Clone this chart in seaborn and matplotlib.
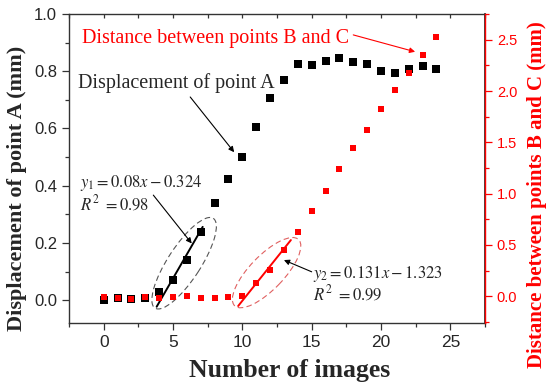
import matplotlib
matplotlib.use("Agg")
import matplotlib.pyplot as plt
import seaborn as sns
import pandas as pd
from matplotlib.patches import Ellipse
from matplotlib.transforms import ScaledTranslation
from matplotlib.ticker import MultipleLocator, FormatStrFormatter

# data
images = list(range(25))
disp_a = [0.002, 0.007, 0.005, 0.009, 0.027, 0.070, 0.140, 0.237, 0.338, 0.422,
          0.500, 0.605, 0.706, 0.769, 0.824, 0.823, 0.837, 0.847, 0.833, 0.826,
          0.800, 0.795, 0.809, 0.818, 0.807]
dist_bc = [-0.010, -0.017, -0.023, -0.010, -0.017, -0.010, 0.003, -0.017, -0.017, -0.010,
           0.003, 0.127, 0.256, 0.451, 0.623, 0.828, 1.026, 1.237, 1.442, 1.620,
           1.827, 2.010, 2.172, 2.350, 2.529]

# fitted segments (end points as drawn)
fit1_x = [3.82, 7.14]
fit1_y = [-0.023, 0.256]
fit2_x = [9.70, 13.50]
fit2_y = [-0.094, 0.548]

RED = "#ff0000"
AXC = "#333333"

sns.set_theme(style="ticks")
plt.rcParams["font.family"] = ["Liberation Sans", "DejaVu Sans"]
plt.rcParams["mathtext.fontset"] = "stix"

fig = plt.figure(figsize=(5.5, 3.85), dpi=100)
ax = fig.add_axes([0.1255, 0.161, 0.7563, 0.8026])
ax2 = ax.twinx()

df = pd.DataFrame({"x": images, "a": disp_a, "bc": dist_bc})
sns.scatterplot(data=df, x="x", y="a", ax=ax, marker="s", s=26, color="black",
                linewidth=0, zorder=3)
sns.lineplot(x=fit1_x, y=fit1_y, ax=ax, color="black", linewidth=1.4, zorder=3)
sns.scatterplot(data=df, x="x", y="bc", ax=ax2, marker="s", s=25, color=RED,
                linewidth=0, zorder=3)
sns.lineplot(x=fit2_x, y=fit2_y, ax=ax2, color=RED, linewidth=1.4, zorder=3)

ax.set_xlim(-2.5, 27.5)
ax.set_ylim(-0.08, 1.0)
ax2.set_ylim(-0.26, 2.75)

ax.xaxis.set_major_locator(MultipleLocator(5))
ax.xaxis.set_minor_locator(MultipleLocator(2.5))
ax.yaxis.set_major_locator(MultipleLocator(0.2))
ax.yaxis.set_minor_locator(MultipleLocator(0.1))
ax2.yaxis.set_major_locator(MultipleLocator(0.5))
ax2.yaxis.set_minor_locator(MultipleLocator(0.25))
ax.yaxis.set_major_formatter(FormatStrFormatter("%.1f"))
ax2.yaxis.set_major_formatter(FormatStrFormatter("%.1f"))

ax.tick_params(axis="x", which="both", direction="out", labelsize=12.5, color=AXC)
ax.tick_params(axis="x", which="major", length=5, width=0.9)
ax.tick_params(axis="x", which="minor", length=3, width=0.9)
ax.tick_params(axis="y", which="both", direction="out", labelsize=12, color=AXC)
ax.tick_params(axis="y", which="major", length=5, width=0.9)
ax.tick_params(axis="y", which="minor", length=3, width=0.9)
ax2.tick_params(axis="y", which="both", direction="out", colors=RED, labelsize=10.5)
ax2.tick_params(axis="y", which="major", length=5, width=0.9)
ax2.tick_params(axis="y", which="minor", length=3, width=0.9)

top = ax.secondary_xaxis("top")
top.xaxis.set_major_locator(MultipleLocator(5))
top.xaxis.set_minor_locator(MultipleLocator(2.5))
top.tick_params(which="both", direction="in", labeltop=False, length=3, width=0.9,
                color=AXC)

for s in ["left", "bottom", "top"]:
    ax.spines[s].set_color(AXC)
    ax.spines[s].set_linewidth(1.0)
top.spines["top"].set_visible(False)
ax2.spines["right"].set_color(RED)
ax2.spines["right"].set_linewidth(1.0)
for s in ["left", "bottom", "top"]:
    ax2.spines[s].set_visible(False)

serif = ["Liberation Serif", "DejaVu Serif"]
ax.set_xlabel("Number of images", family=serif, fontweight="bold", fontsize=18.5)
ax.xaxis.set_label_coords(0.53, -0.118)
ax.set_ylabel("Displacement of point A (mm)", family=serif, fontweight="bold", fontsize=16)
ax.yaxis.set_label_coords(-0.10, 0.437)
ax2.set_ylabel("Distance between points B and C (mm)", family=serif, fontweight="bold",
               fontsize=15, color=RED, rotation=90)
ax2.yaxis.set_label_coords(1.10, 0.414)

# annotations
arrow = dict(arrowstyle="-|>", color="black", lw=0.8, mutation_scale=8,
             shrinkA=0, shrinkB=0)
ax.text(-1.85, 0.741, "Displacement of point A", family=serif, fontsize=14.5,
        va="baseline", ha="left")
ax.annotate("", xy=(9.41, 0.517), xytext=(6.24, 0.710), arrowprops=arrow)
ax.text(-1.59, 0.899, "Distance between points B and C", family=serif, fontsize=14.5,
        va="baseline", ha="left", color=RED)
ax.annotate("", xy=(22.46, 0.868), xytext=(18.0, 0.927),
            arrowprops=dict(arrow, color=RED))
ax.text(-1.71, 0.396, r"$y_1 = 0.08x - 0.324$", fontsize=12, va="baseline", ha="left")
ax.text(-1.71, 0.315, r"$R^2\ = 0.98$", fontsize=12, va="baseline", ha="left")
ax.annotate("", xy=(6.35, 0.198), xytext=(3.58, 0.367), arrowprops=arrow)
ax.text(15.1, 0.077, r"$y_2 = 0.131x - 1.323$", fontsize=12, va="baseline", ha="left")
ax.text(15.1, 0.0, r"$R^2\ = 0.99$", fontsize=12, va="baseline", ha="left")
ax.annotate("", xy=(13.0, 0.14), xytext=(15.0, 0.099), arrowprops=arrow)

# dashed ellipses around the fitted ranges (sizes in inches)
tr1 = fig.dpi_scale_trans + ScaledTranslation(5.80, 0.129, ax.transData)
ax.add_patch(Ellipse((0, 0), 1.07, 0.33, angle=57, transform=tr1, fill=False,
                     ls=(0, (5, 3)), ec="#555555", lw=0.8, zorder=2))
tr2 = fig.dpi_scale_trans + ScaledTranslation(11.75, 0.096, ax.transData)
ax.add_patch(Ellipse((0, 0), 0.92, 0.34, angle=46, transform=tr2, fill=False,
                     ls=(0, (5, 3)), ec="#e06060", lw=0.8, zorder=2))

fig.savefig("out.png", dpi=100)
